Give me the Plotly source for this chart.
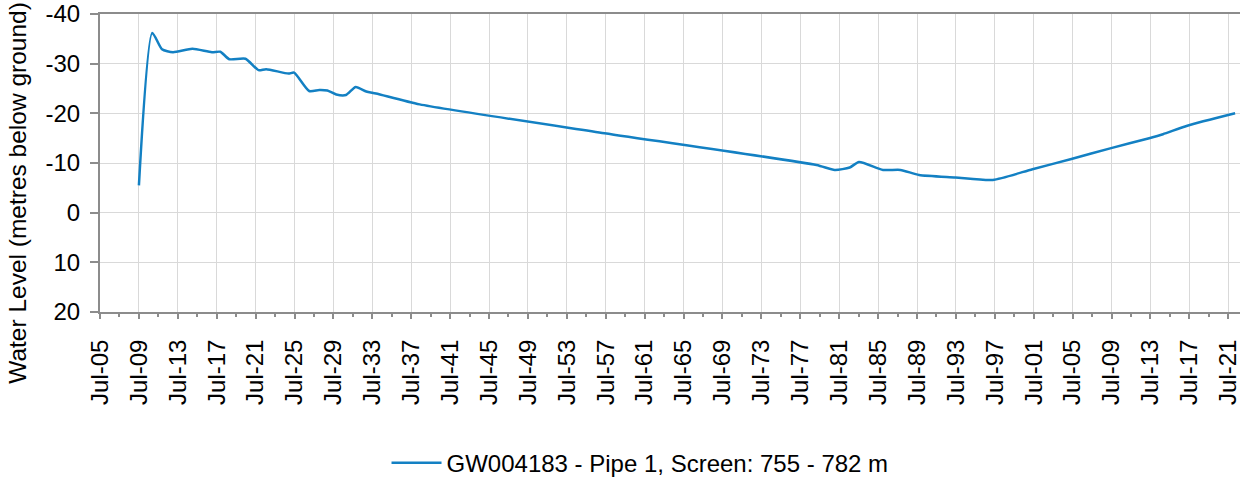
import plotly.graph_objects as go

dates = ["1909-07-01", "1910-11-15", "1911-11-15", "1913-01-01", "1915-01-01",
         "1917-01-01", "1917-11-15", "1918-10-15", "1920-06-15", "1921-10-15",
         "1922-08-01", "1924-11-15", "1925-06-15", "1927-01-01", "1928-01-15",
         "1928-11-15", "1929-10-15", "1930-10-15", "1931-10-15", "1932-11-15",
         "1933-11-15", "1938-05-15", "1957-05-15", "1979-03-01", "1981-01-15",
         "1982-08-01", "1983-07-15", "1986-01-01", "1987-10-15", "1989-09-15",
         "1993-06-15", "1997-04-15", "2001-05-15", "2005-05-15", "2009-06-15",
         "2013-05-15", "2014-10-15", "2017-04-15", "2022-03-15"]
levels = [-5.5, -36.2, -32.9, -32.3, -33.0,
          -32.3, -32.4, -30.9, -31.0, -28.7,
          -28.9, -28.0, -28.2, -24.5, -24.7,
          -24.6, -23.8, -23.7, -25.3, -24.4,
          -24.0, -21.8, -16.0, -9.6, -8.6,
          -9.1, -10.2, -8.6, -8.6, -7.6,
          -7.1, -6.6, -8.75, -10.8, -13.0,
          -15.0, -15.8, -17.5, -20.0]
y_tick_values = [-40, -30, -20, -10, 0, 10, 20]
y_tick_labels = ["-40", "-30", "-20", "-10", "0", "10", "20"]
series_name = "GW004183 - Pipe 1, Screen: 755 - 782 m"
y_title = "Water Level (metres below ground)"

blue = "#1380C3"
axis_grey = "#8c8c8c"
grid_grey = "#d9d9d9"
font_family = "Liberation Sans, Arial, sans-serif"

fig = go.Figure()
fig.add_trace(go.Scatter(
    x=dates, y=levels, mode="lines", name=series_name,
    line=dict(color=blue, width=2.5, shape="spline", smoothing=0.6),
))

fig.update_layout(
    width=1244, height=480,
    margin=dict(l=100, r=4, t=14, b=168, autoexpand=False),
    paper_bgcolor="white", plot_bgcolor="white",
    font=dict(family=font_family, size=24, color="#000000"),
    showlegend=True,
    legend=dict(orientation="h", x=0.4737, xanchor="center", y=-0.507, yanchor="middle",
                font=dict(size=24), itemwidth=50, bgcolor="rgba(0,0,0,0)"),
    annotations=[dict(
        text=y_title, xref="paper", yref="paper", x=-0.0719, y=0.40,
        xanchor="center", yanchor="middle", textangle=-90, showarrow=False,
        font=dict(size=24.5, family=font_family, color="#000000"),
    )],
)

fig.update_xaxes(
    type="date",
    range=["1905-07-01", "2022-09-15"],
    tick0="1905-07-01", dtick="M48", tickformat="%b-%y",
    tickangle=-90,
    showgrid=True, gridcolor=grid_grey, gridwidth=1,
    showline=True, linecolor=axis_grey, linewidth=2, mirror=True,
    ticks="outside", ticklen=5, tickcolor=axis_grey, tickwidth=1.5,
    ticklabelstandoff=11,
    minor=dict(dtick="M24", tick0="1905-07-01", ticks="outside", ticklen=3,
               tickcolor=axis_grey, showgrid=False),
    tickfont=dict(size=24),
    zeroline=False, automargin=False,
)
fig.update_yaxes(
    range=[20, -40],
    tickvals=y_tick_values, ticktext=y_tick_labels,
    showgrid=True, gridcolor=grid_grey, gridwidth=1,
    showline=True, linecolor=axis_grey, linewidth=2,
    ticks="outside", ticklen=8, tickcolor=axis_grey, tickwidth=1.5,
    ticklabelstandoff=5,
    tickfont=dict(size=24),
    zeroline=False, automargin=False,
)

fig.write_html("out.html",
               config={"displayModeBar": False},
               post_script="document.body.style.margin='0';document.body.style.overflow='hidden';")
